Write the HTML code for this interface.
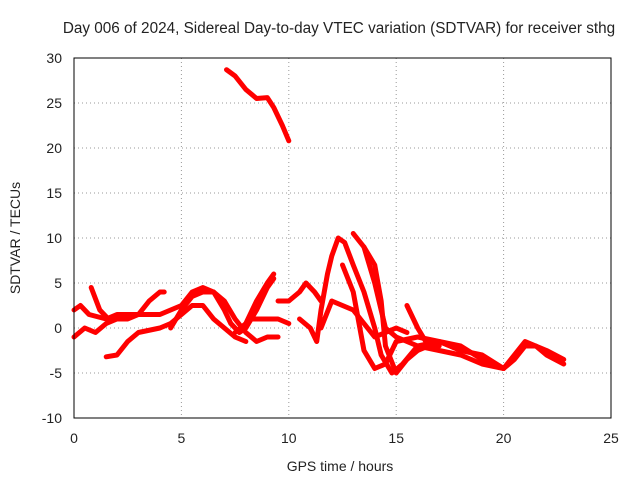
<!DOCTYPE html>
<html><head><meta charset="utf-8"><style>
body{margin:0;background:#fff}
svg text{font-family:"Liberation Sans",sans-serif;font-size:14px;fill:#222}
</style></head><body>
<svg width="640" height="480">
<text x="339" y="33" text-anchor="middle" style="font-size:15.3px">Day 006 of 2024, Sidereal Day-to-day VTEC variation (SDTVAR) for receiver sthg</text>
<g id="grid"></g><g id="ticks"></g><g id="series"></g>
<rect x="74" y="58" width="537" height="360" fill="none" stroke="#000"/>
<text x="340" y="471" text-anchor="middle">GPS time / hours</text>
<text transform="translate(20,238) rotate(-90)" text-anchor="middle">SDTVAR / TECUs</text>
</svg>
<script>
const xTicks=[0,5,10,15,20,25];
const yTicks=[-10,-5,0,5,10,15,20,25,30];
const sTop=[[7.1,28.7],[7.5,28],[8,26.5],[8.5,25.5],[9,25.6],[9.3,24.5],[9.7,22.5],[10,20.8]];
const sA=[[0,2],[0.3,2.5],[0.7,1.5],[1.5,1],[2,1.5],[3,1.5],[4,1.5],[5,2.5],[5.5,4],[6,4.5],[6.5,4],[7,3],[7.5,1],[8,-0.5],[8.5,-1.5],[9,-1],[9.5,-1]];
const sB=[[0,-1],[0.5,0],[1,-0.5],[1.5,0.5],[2,1],[2.5,1],[3,1.5],[3.5,3],[4,4],[4.2,4]];
const sC=[[0.8,4.5],[1.2,2],[1.6,1],[2,1]];
const sD=[[1.5,-3.2],[2,-3],[2.5,-1.5],[3,-0.5],[4,0],[4.5,0.5],[5,1.5],[5.5,2.5],[6,2.5],[6.5,1],[7,0],[7.5,-1],[8,-1.5]];
const sE=[[4.5,0],[5,2],[5.5,3.5],[6,4],[6.5,4],[7,2],[7.3,0.5],[7.7,-0.5],[8,0],[8.5,2],[9,4.5],[9.3,5.5]];
const sF=[[7.5,-0.5],[8,0.5],[8.5,3],[9,5],[9.3,6]];
const sG=[[8.3,1],[9.5,1],[10,0.5]];
const sH=[[9.5,3],[10,3],[10.5,4],[10.8,5],[11.2,4],[11.5,3]];
const sI=[[10.5,1],[11,0],[11.3,-1.5],[11.5,2],[11.8,6],[12,8],[12.3,10],[12.6,9.5],[13,7],[13.5,4],[14,0],[14.3,-3],[14.8,-5],[15.3,-4],[16,-2],[17,-1.5],[18,-2],[19,-3.5],[20,-4.5],[20.5,-3.5],[21,-2],[21.5,-2],[22,-2.5],[22.8,-3.5]];
const sJ=[[12.5,7],[13,4],[13.5,-2.5],[14,-4.5],[14.5,-4],[15,-1.5],[16,-1],[17,-1.5],[18,-2.5],[19,-3],[20,-4.5]];
const sK=[[13,10.5],[13.5,9],[14,5],[14.3,2],[14.5,0],[15,-1],[16,-2],[17,-2.5],[18,-3],[19,-4],[20,-4.5],[20.5,-3],[21,-1.5],[21.5,-2],[22,-3],[22.8,-4]];
const sL=[[13.5,9],[14,7],[14.3,3],[14.5,-2],[15,-5],[15.5,-3.5],[16,-2.5],[17,-1.5],[18,-2.5]];
const sM=[[15.5,2.5],[16,0],[16.5,-2],[17,-2]];
const sN=[[11.5,0],[12,3],[13,2],[14,-1],[15,0],[15.5,-0.5]];
const allSeries=[sTop,sA,sB,sC,sD,sE,sF,sG,sH,sI,sJ,sK,sL,sM,sN];
const X=v=>74+v*537/25, Y=v=>418-(v+10)*9;
const NS="http://www.w3.org/2000/svg";
const g=document.getElementById('grid'),t=document.getElementById('ticks'),s=document.getElementById('series');
function mk(tag,attrs,parent){const e=document.createElementNS(NS,tag);for(const k in attrs)e.setAttribute(k,attrs[k]);parent.appendChild(e);return e;}
xTicks.forEach(v=>{
 const l=mk('line',{x1:X(v),x2:X(v),y1:58,y2:418,stroke:'#999','stroke-dasharray':'1,3'},g);
 
 
 const tx=mk('text',{x:X(v),y:443,'text-anchor':'middle'},t);tx.textContent=v;
 
 
});
yTicks.forEach(v=>{
 const l=mk('line',{x1:74,x2:611,y1:Y(v),y2:Y(v),stroke:'#999','stroke-dasharray':'1,3'},g);
 
 
 const tx=mk('text',{x:62,y:Y(v)+5,'text-anchor':'end'},t);tx.textContent=v;
 
 
});
allSeries.forEach((ser,i)=>{
 const p=mk('polyline',{points:ser.map(d=>X(d[0])+','+Y(d[1])).join(' '),fill:'none',stroke:'#f00','stroke-width':5,'stroke-linejoin':'round','stroke-linecap':'round'},s);
 
 
});
</script>
</body></html>
